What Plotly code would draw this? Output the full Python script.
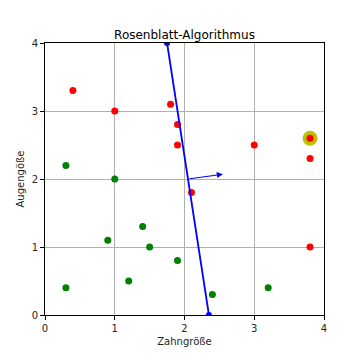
import plotly.graph_objects as go

red_x = [0.4, 1.0, 1.8, 1.9, 1.9, 2.1, 3.0, 3.8, 3.8, 3.8]
red_y = [3.3, 3.0, 3.1, 2.8, 2.5, 1.8, 2.5, 2.6, 2.3, 1.0]
green_x = [0.3, 1.0, 0.9, 1.4, 1.5, 1.2, 0.3, 1.9, 2.4, 3.2]
green_y = [2.2, 2.0, 1.1, 1.3, 1.0, 0.5, 0.4, 0.8, 0.3, 0.4]
highlight_x = [3.8]
highlight_y = [2.6]
line_x = [1.75, 2.35]
line_y = [4.0, 0.0]
arrow_start = (2.05, 2.0)
arrow_end = (2.55, 2.07)

fig = go.Figure()
fig.add_trace(go.Scatter(x=highlight_x, y=highlight_y, mode="markers",
                         marker=dict(color="#bfbf00", size=15), showlegend=False))
fig.add_trace(go.Scatter(x=red_x, y=red_y, mode="markers",
                         marker=dict(color="#ff0000", size=7), showlegend=False))
fig.add_trace(go.Scatter(x=green_x, y=green_y, mode="markers",
                         marker=dict(color="#008000", size=7), showlegend=False))
fig.add_trace(go.Scatter(x=line_x, y=line_y, mode="lines+markers",
                         line=dict(color="#0000ff", width=1.8),
                         marker=dict(color="#0000ff", size=6), showlegend=False))
fig.add_annotation(x=arrow_end[0], y=arrow_end[1], ax=arrow_start[0], ay=arrow_start[1],
                   xref="x", yref="y", axref="x", ayref="y", text="",
                   showarrow=True, arrowhead=2, arrowsize=1.1, arrowwidth=1.1,
                   arrowcolor="#0000ff")

axis_common = dict(range=[0, 4], dtick=1, showgrid=True, gridcolor="#b0b0b0",
                   gridwidth=1, showline=True, linecolor="black", linewidth=1,
                   mirror=True, ticks="outside", ticklen=4, tickcolor="black",
                   zeroline=False, automargin=False,
                   tickfont=dict(size=10, color="#262626"))
fig.update_xaxes(**axis_common, title=dict(text="Zahngröße", font=dict(size=10, color="#262626"), standoff=4))
fig.update_yaxes(**axis_common, title=dict(text="Augengöße", font=dict(size=10, color="#262626"), standoff=5))
fig.update_layout(
    width=352, height=352,
    margin=dict(l=37, r=36, t=35, b=45),
    paper_bgcolor="white", plot_bgcolor="white",
    font=dict(family="DejaVu Sans", color="#262626"),
    title=dict(text="Rosenblatt-Algorithmus", x=0.5, xanchor="center",
               xref="paper", y=1, yref="paper", yanchor="bottom", pad=dict(b=4),
               automargin=False,
               font=dict(size=12, color="black")),
)
fig.write_html("out.html")
